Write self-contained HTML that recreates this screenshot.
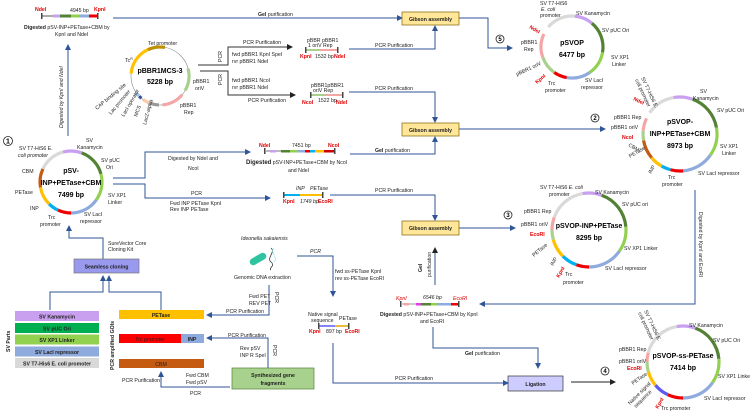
<!DOCTYPE html>
<html><head><meta charset="utf-8"><style>
html,body{margin:0;padding:0;background:#fff}
svg{display:block;font-family:"Liberation Sans",sans-serif}
.t{font-size:5.2px;fill:#222}
.b{font-weight:bold}
.r{fill:#e00000}
.ln{stroke:#2f5597;stroke-width:1;fill:none}
.lk{stroke:#222;stroke-width:1;fill:none}
.a{stroke-width:3.2;fill:none}
</style></head><body>
<svg width="750" height="413" viewBox="0 0 750 413" xmlns="http://www.w3.org/2000/svg">
<defs>
<marker id="ar" markerWidth="6" markerHeight="6" refX="5" refY="3" orient="auto" markerUnits="userSpaceOnUse"><path d="M0,0 L6,3 L0,6 z" fill="#2f5597"/></marker>
<marker id="ak" markerWidth="6" markerHeight="6" refX="5" refY="3" orient="auto" markerUnits="userSpaceOnUse"><path d="M0,0 L6,3 L0,6 z" fill="#222"/></marker>
</defs>

<!-- ===== Top fragment ===== -->
<line x1="42" y1="16" x2="97" y2="16" stroke="#aaa" stroke-width="2"/>
<rect x="53" y="14.5" width="7" height="3" fill="#c9a0f0"/><rect x="60" y="14.5" width="11" height="3" fill="#548235"/><rect x="71" y="14.5" width="8" height="3" fill="#92d050"/><rect x="79" y="14.5" width="10" height="3" fill="#8faadc"/><rect x="89" y="14.5" width="8" height="3" fill="#e00"/>
<rect x="41" y="13" width="1.5" height="6" fill="#444"/><rect x="97" y="13" width="1.5" height="6" fill="#444"/>
<text x="35" y="11" class="t r b">NdeI</text><text x="94" y="11" class="t r b">KpnI</text><text x="70" y="12" class="t">4945 bp</text>
<text x="24" y="29" class="t"><tspan class="b">Digested</tspan> pSV-INP+PETase+CBM by</text><text x="55" y="36" class="t">KpnI and NdeI</text>
<polyline class="ln" points="113,18 402,18" marker-end="url(#ar)"/>
<text x="258" y="16" class="t b">Gel <tspan font-weight="normal">purification</tspan></text>
<line class="ln" x1="68" y1="136" x2="68" y2="45" marker-end="url(#ar)"/>
<text transform="translate(63,128) rotate(-90)" class="t" font-style="italic">Digested by KpnI and NdeI</text>

<!-- ===== pBBR1MCS-3 ===== -->
<g transform="translate(160,76)">
<circle r="29" fill="none" stroke="#888" stroke-width="0.6"/>
<circle r="29" pathLength="360" class="a" stroke="#bf9000" stroke-dasharray="35 360" transform="rotate(-115)"/>
<circle r="29" pathLength="360" class="a" stroke="#ffc000" stroke-dasharray="60 360" transform="rotate(-175)"/>
<circle r="29" pathLength="360" class="a" stroke="#a9d18e" stroke-dasharray="45 360" transform="rotate(-15)"/>
<circle r="29" pathLength="360" class="a" stroke="#f4a6a6" stroke-dasharray="45 360" transform="rotate(40)"/>
<circle r="29" pathLength="360" class="a" stroke="#999" stroke-dasharray="18 360" transform="rotate(92)"/>
<circle r="29" pathLength="360" class="a" stroke="#f8cbad" stroke-dasharray="14 360" transform="rotate(112)"/>
<circle r="29" pathLength="360" class="a" stroke="#2f5597" stroke-dasharray="6 360" transform="rotate(130)"/>
<circle r="29" pathLength="360" class="a" stroke="#9dc3e6" stroke-dasharray="8 360" transform="rotate(137)"/>
<text x="0" y="-3" class="b" font-size="7" text-anchor="middle">pBBR1MCS-3</text>
<text x="0" y="8" class="b" font-size="7" text-anchor="middle">5228 bp</text>
</g>
<text x="148" y="45" class="t">Tet promoter</text><text x="125" y="62" class="t">Tc<tspan font-size="3.5" dy="-2">R</tspan></text>
<text x="193" y="83" class="t">pBBR1</text><text x="195" y="90" class="t">oriV</text>
<text x="180" y="107" class="t">pBBR1</text><text x="184" y="114" class="t">Rep</text>
<text transform="translate(97,110) rotate(-40)" class="t">CAP binding site</text>
<text transform="translate(111,115) rotate(-50)" class="t">Lac promoter</text>
<text transform="translate(124,117) rotate(-60)" class="t">LacI operator</text>
<text transform="translate(137,117) rotate(-70)" class="t">MCS</text>
<text transform="translate(146,125) rotate(-75)" class="t">LacZ-alpha</text>

<polyline points="198,65 228,65 228,47 292,47" stroke="#333" stroke-width="1" fill="none" marker-end="url(#ak)"/>
<polyline points="200,71 228,71 228,95 295,95" stroke="#333" stroke-width="1" fill="none" marker-end="url(#ak)"/>
<text transform="translate(222,62) rotate(-90)" class="t">PCR</text>
<text transform="translate(222,85) rotate(-90)" class="t">PCR</text>
<text x="243" y="44" class="t">PCR Purification</text>
<text x="232" y="56" class="t">fwd pBBR1 KpnI SpeI</text><text x="232" y="63" class="t">rvr pBBR1 NdeI</text>
<text x="232" y="82" class="t">fwd pBBR1 NcoI</text><text x="232" y="89" class="t">rvr pBBR1 NdeI</text>
<text x="248" y="102" class="t">PCR Purification</text>

<!-- frag 1 -->
<line x1="306" y1="50" x2="337" y2="50" stroke="#a9d18e" stroke-width="2"/><line x1="320" y1="50" x2="337" y2="50" stroke="#f4a6a6" stroke-width="2"/>
<rect x="305" y="47" width="1.5" height="6" fill="#444"/><rect x="337" y="47" width="1.5" height="6" fill="#444"/>
<text x="307" y="42" class="t" font-size="4.5">pBBR  pBBR1</text><text x="308" y="47" class="t" font-size="4.5">1 oriV    Rep</text>
<text x="300" y="58" class="t r b">KpnI</text><text x="315" y="58" class="t">1532 bp</text><text x="334" y="58" class="t r b">NdeI</text>
<!-- frag 2 -->
<line x1="311" y1="95" x2="342" y2="95" stroke="#a9d18e" stroke-width="2"/><line x1="326" y1="95" x2="342" y2="95" stroke="#f4a6a6" stroke-width="2"/>
<rect x="310" y="92" width="1.5" height="6" fill="#444"/><rect x="342" y="92" width="1.5" height="6" fill="#444"/>
<text x="311" y="87" class="t" font-size="4.5">pBBR1pBBR1</text><text x="313" y="92" class="t" font-size="4.5">oriV    Rep</text>
<text x="302" y="104" class="t r b">NcoI</text><text x="318" y="102" class="t">1522 bp</text><text x="336" y="104" class="t r b">NdeI</text>

<polyline class="ln" points="349,49 435,49 435,26" marker-end="url(#ar)"/>
<text x="375" y="47" class="t">PCR Purification</text>
<polyline class="ln" points="349,92 435,92 435,122" marker-end="url(#ar)"/>
<text x="375" y="90" class="t">PCR Purification</text>

<!-- Gibson boxes -->
<rect x="402" y="12" width="57" height="13" fill="#ffe699" stroke="#7f6000" stroke-width="0.7"/><text x="430.5" y="21" class="t b" text-anchor="middle">Gibson assembly</text>
<rect x="402" y="123" width="57" height="13" fill="#ffe699" stroke="#7f6000" stroke-width="0.7"/><text x="430.5" y="132" class="t b" text-anchor="middle">Gibson assembly</text>
<rect x="402" y="221" width="57" height="14" fill="#ffe699" stroke="#7f6000" stroke-width="0.7"/><text x="430.5" y="230" class="t b" text-anchor="middle">Gibson assembly</text>

<polyline class="ln" points="459,18 488,18 488,48 512,48" marker-end="url(#ar)"/>
<circle cx="500" cy="39" r="4" fill="#fff" stroke="#222" stroke-width="0.8"/><text x="500" y="41" font-size="6" class="b" text-anchor="middle">5</text>
<line class="ln" x1="459" y1="129" x2="605" y2="129" marker-end="url(#ar)"/>
<circle cx="595" cy="118" r="4" fill="#fff" stroke="#222" stroke-width="0.8"/><text x="595" y="120" font-size="6" class="b" text-anchor="middle">2</text>
<line class="ln" x1="459" y1="228" x2="515" y2="228" marker-end="url(#ar)"/>
<circle cx="508" cy="215" r="4" fill="#fff" stroke="#222" stroke-width="0.8"/><text x="508" y="217" font-size="6" class="b" text-anchor="middle">3</text>

<!-- ===== pSVOP ===== -->
<g transform="translate(572,47)">
<circle r="31" pathLength="360" class="a" stroke="#d9d9d9" stroke-dasharray="55 360" transform="rotate(-140)"/>
<circle r="31" pathLength="360" class="a" stroke="#c9a0f0" stroke-dasharray="35 360" transform="rotate(-85)"/>
<circle r="31" pathLength="360" class="a" stroke="#548235" stroke-dasharray="60 360" transform="rotate(-50)"/>
<circle r="31" pathLength="360" class="a" stroke="#92d050" stroke-dasharray="45 360" transform="rotate(10)"/>
<circle r="31" pathLength="360" class="a" stroke="#8faadc" stroke-dasharray="45 360" transform="rotate(55)"/>
<circle r="31" pathLength="360" class="a" stroke="#e00" stroke-dasharray="25 360" transform="rotate(100)"/>
<circle r="31" pathLength="360" class="a" stroke="#a9d18e" stroke-dasharray="35 360" transform="rotate(125)"/>
<circle r="31" pathLength="360" class="a" stroke="#f4a6a6" stroke-dasharray="45 360" transform="rotate(160)"/>
<text y="-2" class="b" font-size="7" text-anchor="middle">pSVOP</text><text y="10" class="b" font-size="7" text-anchor="middle">6477 bp</text>
</g>
<text x="540" y="5" class="t">SV T7-HiS6</text><text x="541" y="11" class="t" font-style="italic">E. coli</text><text x="540" y="17" class="t">promoter</text>
<text x="576" y="15" class="t">SV Kanamycin</text><text x="602" y="32" class="t">SV pUC Ori</text>
<text x="611" y="59" class="t">SV XP1</text><text x="612" y="66" class="t">Linker</text>
<text x="585" y="82" class="t">SV LacI</text><text x="581" y="89" class="t">repressor</text>
<text x="548" y="85" class="t">Trc</text><text x="545" y="92" class="t">promoter</text>
<text x="521" y="44" class="t">pBBR1</text><text x="524" y="51" class="t">Rep</text>
<text transform="translate(517,76) rotate(-25)" class="t">pBBR1 oriV</text>
<text transform="translate(529,28) rotate(30)" class="t r b">NdeI</text>
<text transform="translate(537,84) rotate(-40)" class="t r b">KpnI</text>

<!-- ===== pSVOP-INP+PETase+CBM ===== -->
<g transform="translate(680,134)">
<circle r="37" pathLength="360" class="a" stroke="#d9d9d9" stroke-dasharray="45 360" transform="rotate(-145)"/>
<circle r="37" pathLength="360" class="a" stroke="#c9a0f0" stroke-dasharray="30 360" transform="rotate(-100)"/>
<circle r="37" pathLength="360" class="a" stroke="#548235" stroke-dasharray="60 360" transform="rotate(-70)"/>
<circle r="37" pathLength="360" class="a" stroke="#92d050" stroke-dasharray="45 360" transform="rotate(-10)"/>
<circle r="37" pathLength="360" class="a" stroke="#8faadc" stroke-dasharray="50 360" transform="rotate(35)"/>
<circle r="37" pathLength="360" class="a" stroke="#e00" stroke-dasharray="20 360" transform="rotate(85)"/>
<circle r="37" pathLength="360" class="a" stroke="#00b0f0" stroke-dasharray="15 360" transform="rotate(105)"/>
<circle r="37" pathLength="360" class="a" stroke="#ffc000" stroke-dasharray="20 360" transform="rotate(120)"/>
<circle r="37" pathLength="360" class="a" stroke="#c55a11" stroke-dasharray="30 360" transform="rotate(140)"/>
<circle r="37" pathLength="360" class="a" stroke="#a9d18e" stroke-dasharray="15 360" transform="rotate(170)"/>
<circle r="37" pathLength="360" class="a" stroke="#f4a6a6" stroke-dasharray="20 360" transform="rotate(185)"/>
<text y="-10" class="b" font-size="7" text-anchor="middle">pSVOP-</text><text y="2" class="b" font-size="7" text-anchor="middle">INP+PETase+CBM</text><text y="14" class="b" font-size="7" text-anchor="middle">8973 bp</text>
</g>
<text transform="translate(641,78) rotate(65)" class="t">SV T7-HiS6 E.</text><text transform="translate(635,80) rotate(65)" class="t">coli promoter</text>
<text x="700" y="93" class="t">SV</text><text x="693" y="100" class="t">Kanamycin</text>
<text x="717" y="112" class="t">SV pUC Ori</text>
<text x="720" y="148" class="t">SV XP1</text><text x="722" y="155" class="t">Linker</text>
<text x="698" y="175" class="t">SV LacI repressor</text>
<text x="668" y="179" class="t">Trc</text><text x="662" y="186" class="t">promoter</text>
<text x="614" y="119" class="t">pBBR1 Rep</text><text x="611" y="129" class="t">pBBR1 oriV</text>
<text x="622" y="139" class="t r b" font-size="6">NcoI</text>
<text transform="translate(633,100) rotate(25)" class="t r b">NdeI</text>
<text transform="translate(628,146) rotate(30)" class="t">CBM</text>
<text transform="translate(630,158) rotate(-30)" class="t">PETase</text>
<text transform="translate(651,174) rotate(-60)" class="t">INP</text>

<!-- vertical digest line -->
<polyline class="ln" points="695,190 695,304 480,304" marker-end="url(#ar)"/>
<text transform="translate(699,212) rotate(90)" class="t">Digested by KpnI and EcoRI</text>

<!-- ===== pSV-INP+PETase+CBM ===== -->
<g transform="translate(71,182)">
<circle r="31" pathLength="360" class="a" stroke="#d9d9d9" stroke-dasharray="50 360" transform="rotate(-155)"/>
<circle r="31" pathLength="360" class="a" stroke="#c9a0f0" stroke-dasharray="35 360" transform="rotate(-105)"/>
<circle r="31" pathLength="360" class="a" stroke="#548235" stroke-dasharray="55 360" transform="rotate(-70)"/>
<circle r="31" pathLength="360" class="a" stroke="#92d050" stroke-dasharray="50 360" transform="rotate(-15)"/>
<circle r="31" pathLength="360" class="a" stroke="#8faadc" stroke-dasharray="55 360" transform="rotate(35)"/>
<circle r="31" pathLength="360" class="a" stroke="#e00" stroke-dasharray="25 360" transform="rotate(90)"/>
<circle r="31" pathLength="360" class="a" stroke="#00b0f0" stroke-dasharray="20 360" transform="rotate(115)"/>
<circle r="31" pathLength="360" class="a" stroke="#ffc000" stroke-dasharray="35 360" transform="rotate(135)"/>
<circle r="31" pathLength="360" class="a" stroke="#c55a11" stroke-dasharray="35 360" transform="rotate(170)"/>
<text y="-9" class="b" font-size="7" text-anchor="middle">pSV-</text><text y="3" class="b" font-size="7" text-anchor="middle">INP+PETase+CBM</text><text y="15" class="b" font-size="7" text-anchor="middle">7499 bp</text>
</g>
<circle cx="8" cy="141" r="4.5" fill="#fff" stroke="#222" stroke-width="0.8"/><text x="8" y="143.5" font-size="7" class="b" text-anchor="middle">1</text>
<text x="19" y="150" class="t">SV T7-HiS6 E.</text><text x="18" y="157" class="t" font-style="italic">coli promoter</text>
<text x="86" y="142" class="t">SV</text><text x="77" y="149" class="t">Kanamycin</text>
<text x="101" y="162" class="t">SV pUC</text><text x="106" y="169" class="t">Ori</text>
<text x="108" y="197" class="t">SV XP1</text><text x="108" y="204" class="t">Linker</text>
<text x="22" y="173" class="t">CBM</text><text x="15" y="194" class="t">PETase</text><text x="30" y="210" class="t">INP</text>
<text x="84" y="216" class="t">SV LacI</text><text x="80" y="223" class="t">repressor</text>
<text x="48" y="219" class="t">Trc</text><text x="40" y="226" class="t">promoter</text>

<polyline class="ln" points="113,178 145,178 145,152 250,152" marker-end="url(#ar)"/>
<polyline class="ln" points="113,184 145,184 145,198 270,198" marker-end="url(#ar)"/>
<text x="168" y="160" class="t">Digested by NdeI and</text><text x="188" y="170" class="t">NcoI</text>
<text x="191" y="195" class="t">PCR</text>
<text x="170" y="205" class="t">Fwd INP PETase KpnI</text><text x="170" y="211" class="t">Rev INP PETase</text>

<!-- frag 3 -->
<line x1="266" y1="151" x2="334" y2="151" stroke="#bbb" stroke-width="2"/>
<rect x="270" y="150" width="6" height="2.5" fill="#c9a0f0"/><rect x="281" y="150" width="9" height="2.5" fill="#548235"/><rect x="290" y="150" width="8" height="2.5" fill="#92d050"/><rect x="298" y="150" width="7" height="2.5" fill="#8faadc"/><rect x="305" y="150" width="5" height="2.5" fill="#e00"/><rect x="310" y="150" width="5" height="2.5" fill="#00b0f0"/><rect x="315" y="150" width="9" height="2.5" fill="#ffc000"/><rect x="324" y="150" width="10" height="2.5" fill="#c00"/>
<rect x="264" y="148" width="1.5" height="6" fill="#444"/><rect x="334" y="148" width="1.5" height="6" fill="#444"/>
<text x="259" y="147" class="t r b">NdeI</text><text x="292" y="147" class="t">7451 bp</text><text x="328" y="147" class="t r b">NcoI</text>
<text x="246" y="164" class="t"><tspan class="b" font-size="6">Digested</tspan> pSV-INP+PETase+CBM by NcoI</text><text x="288" y="172" class="t">and NdeI</text>
<polyline class="ln" points="350,154 435,154 435,137" marker-end="url(#ar)"/>
<text x="375" y="152" class="t b">Gel <tspan font-weight="normal">purification</tspan></text>

<!-- frag 4 -->
<line x1="284" y1="195" x2="322" y2="195" stroke="#00b0f0" stroke-width="2"/><line x1="300" y1="195" x2="322" y2="195" stroke="#ffc000" stroke-width="2"/>
<rect x="283" y="192" width="1.5" height="6" fill="#444"/><rect x="322" y="192" width="1.5" height="6" fill="#444"/>
<text x="296" y="190" class="t" font-style="italic">INP</text><text x="310" y="190" class="t" font-style="italic">PETase</text>
<text x="283" y="203" class="t r b">KpnI</text><text x="300" y="203" class="t" font-style="italic">1749 bp</text><text x="318" y="203" class="t r b">EcoRI</text>
<polyline class="ln" points="330,195 435,195 435,220" marker-end="url(#ar)"/>
<text x="375" y="192" class="t">PCR Purification</text>

<!-- ===== pSVOP-INP+PETase ===== -->
<g transform="translate(589,230)">
<circle r="37" pathLength="360" class="a" stroke="#d9d9d9" stroke-dasharray="60 360" transform="rotate(-160)"/>
<circle r="37" pathLength="360" class="a" stroke="#c9a0f0" stroke-dasharray="30 360" transform="rotate(-100)"/>
<circle r="37" pathLength="360" class="a" stroke="#548235" stroke-dasharray="65 360" transform="rotate(-70)"/>
<circle r="37" pathLength="360" class="a" stroke="#92d050" stroke-dasharray="40 360" transform="rotate(-5)"/>
<circle r="37" pathLength="360" class="a" stroke="#8faadc" stroke-dasharray="55 360" transform="rotate(35)"/>
<circle r="37" pathLength="360" class="a" stroke="#e00" stroke-dasharray="20 360" transform="rotate(90)"/>
<circle r="37" pathLength="360" class="a" stroke="#00b0f0" stroke-dasharray="25 360" transform="rotate(110)"/>
<circle r="37" pathLength="360" class="a" stroke="#ffc000" stroke-dasharray="30 360" transform="rotate(135)"/>
<circle r="37" pathLength="360" class="a" stroke="#a9d18e" stroke-dasharray="15 360" transform="rotate(165)"/>
<circle r="37" pathLength="360" class="a" stroke="#f4a6a6" stroke-dasharray="20 360" transform="rotate(180)"/>
<text y="-2" class="b" font-size="7" text-anchor="middle">pSVOP-INP+PETase</text><text y="10" class="b" font-size="7" text-anchor="middle">8295 bp</text>
</g>
<text x="540" y="189" class="t">SV T7-HiS6 <tspan font-style="italic">E. coli</tspan></text><text x="549" y="196" class="t">promoter</text>
<text x="595" y="194" class="t">SV Kanamycin</text><text x="622" y="206" class="t">SV pUC ori</text>
<text x="624" y="250" class="t">SV XP1 Linker</text><text x="605" y="270" class="t">SV LacI repressor</text>
<text x="524" y="213" class="t">pBBR1 Rep</text><text x="521" y="226" class="t">pBBR1 oriV</text>
<text x="530" y="236" class="t r b" font-size="6">EcoRI</text>
<text transform="translate(534,257) rotate(-40)" class="t">PETase</text>
<text transform="translate(553,266) rotate(-60)" class="t">INP</text>
<text transform="translate(559,278) rotate(-60)" class="t r b">KpnI</text>
<text x="565" y="276" class="t">Trc</text><text x="563" y="284" class="t">promoter</text>

<!-- frag 5 -->
<line x1="402" y1="304" x2="458" y2="304" stroke="#ccc" stroke-width="2"/>
<rect x="404" y="303" width="5" height="2.5" fill="#f4a6a6"/><rect x="416" y="303" width="5" height="2.5" fill="#e040e0"/><rect x="421" y="303" width="10" height="2.5" fill="#548235"/><rect x="431" y="303" width="6" height="2.5" fill="#92d050"/><rect x="437" y="303" width="14" height="2.5" fill="#8faadc"/><rect x="451" y="303" width="7" height="2.5" fill="#e00"/>
<rect x="400" y="301" width="1.5" height="6" fill="#444"/><rect x="458" y="301" width="1.5" height="6" fill="#444"/>
<text x="396" y="300" class="t r" font-style="italic">KpnI</text><text x="423" y="299" class="t" font-style="italic">6546 bp</text><text x="453" y="300" class="t r" font-style="italic">EcoRI</text>
<text x="380" y="316" class="t"><tspan class="b">Digested</tspan> pSV-INP+PETase+CBM by KpnI</text><text x="420" y="323" class="t">and EcoRI</text>
<line class="ln" x1="435" y1="285" x2="435" y2="248" stroke="#222" marker-end="url(#ak)"/>
<text transform="translate(422,272) rotate(-90)" class="t b">Gel</text><text transform="translate(431,277) rotate(-90)" class="t">purification</text>
<polyline class="ln" points="433,327 433,348 538,348 538,368" marker-end="url(#ar)"/>
<text x="465" y="355" class="t b">Gel <tspan font-weight="normal">purification</tspan></text>

<!-- Ligation -->
<rect x="508" y="376" width="55" height="15" fill="#ccccff" stroke="#333" stroke-width="0.7"/><text x="535.5" y="386" class="t b" font-size="6" text-anchor="middle">Ligation</text>
<line x1="571" y1="382" x2="615" y2="382" stroke="#222" stroke-width="1" marker-end="url(#ak)"/>
<circle cx="605" cy="371" r="4" fill="#fff" stroke="#222" stroke-width="0.8"/><text x="605" y="373" font-size="6" class="b" text-anchor="middle">4</text>

<!-- ===== pSVOP-ss-PETase ===== -->
<g transform="translate(683,362)">
<circle r="36" pathLength="360" class="a" stroke="#d9d9d9" stroke-dasharray="65 360" transform="rotate(-165)"/>
<circle r="36" pathLength="360" class="a" stroke="#c9a0f0" stroke-dasharray="30 360" transform="rotate(-100)"/>
<circle r="36" pathLength="360" class="a" stroke="#548235" stroke-dasharray="65 360" transform="rotate(-70)"/>
<circle r="36" pathLength="360" class="a" stroke="#92d050" stroke-dasharray="40 360" transform="rotate(-5)"/>
<circle r="36" pathLength="360" class="a" stroke="#8faadc" stroke-dasharray="55 360" transform="rotate(35)"/>
<circle r="36" pathLength="360" class="a" stroke="#e00" stroke-dasharray="25 360" transform="rotate(90)"/>
<circle r="36" pathLength="360" class="a" stroke="#5b5bf0" stroke-dasharray="25 360" transform="rotate(115)"/>
<circle r="36" pathLength="360" class="a" stroke="#ffc000" stroke-dasharray="25 360" transform="rotate(140)"/>
<circle r="36" pathLength="360" class="a" stroke="#a9d18e" stroke-dasharray="15 360" transform="rotate(165)"/>
<circle r="36" pathLength="360" class="a" stroke="#f4a6a6" stroke-dasharray="15 360" transform="rotate(180)"/>
<text y="-4" class="b" font-size="7" text-anchor="middle">pSVOP-ss-PETase</text><text y="8" class="b" font-size="7" text-anchor="middle">7414 bp</text>
</g>
<text transform="translate(644,311) rotate(65)" class="t">SV T7-HiS6 E.</text><text transform="translate(638,313) rotate(65)" class="t">coli promoter</text>
<text x="689" y="327" class="t">SV Kanamycin</text><text x="713" y="342" class="t">SV pUC Ori</text>
<text x="718" y="378" class="t">SV XP1 Linker</text><text x="704" y="400" class="t">SV LacI repressor</text>
<text x="619" y="351" class="t">pBBR1 Rep</text><text x="619" y="363" class="t">pBBR1 oriV</text>
<text x="627" y="370" class="t r b" font-size="6">EcoRI</text>
<text transform="translate(633,385) rotate(-35)" class="t">PETase</text>
<text transform="translate(630,405) rotate(-45)" class="t">Native signal</text><text transform="translate(636,408) rotate(-45)" class="t">sequence</text>
<text transform="translate(658,409) rotate(-60)" class="t r b">KpnI</text>
<text x="661" y="410" class="t">Trc promoter</text>

<!-- ===== Lower left ===== -->
<polyline class="ln" points="103,259 103,238 69,238 69,226" marker-end="url(#ar)"/>
<text x="108" y="245" class="t">SureVector Core</text><text x="108" y="251" class="t">Cloning Kit</text>
<rect x="74" y="259" width="65" height="14" fill="#9999ee" stroke="#777" stroke-width="0.7"/><text x="106.5" y="268.5" class="t b" font-size="5.5" text-anchor="middle">Seamless cloning</text>
<polyline class="ln" points="50,310 50,292 103,292 103,276" marker-end="url(#ar)"/>
<polyline class="ln" points="161,310 161,292 109,292 109,276" marker-end="url(#ar)"/>

<rect x="15" y="311" width="84" height="10" fill="#c9a0f0"/><text x="57" y="318.5" class="t b" text-anchor="middle">SV Kanamycin</text>
<rect x="15" y="323" width="84" height="10" fill="#00b050"/><text x="57" y="330.5" class="t b" text-anchor="middle">SV pUC Ori</text>
<rect x="15" y="334.5" width="84" height="10" fill="#92d050"/><text x="57" y="342" class="t b" text-anchor="middle">SV XP1 Linker</text>
<rect x="15" y="346.5" width="84" height="10" fill="#8faadc"/><text x="57" y="354" class="t b" text-anchor="middle">SV LacI repressor</text>
<rect x="15" y="358" width="84" height="10" fill="#d9d9d9"/><text x="57" y="365.5" class="t b" text-anchor="middle">SV T7-His6 E. coli promoter</text>
<text transform="translate(10,352) rotate(-90)" class="t b" font-size="6">SV Parts</text>
<text transform="translate(114,370) rotate(-90)" class="t b" font-size="6">PCR amplified GOIs</text>

<rect x="119" y="310" width="85" height="9" fill="#ffc000"/><text x="161" y="317" class="t b" text-anchor="middle">PETase</text>
<rect x="119" y="334" width="62" height="9" fill="#f00"/><rect x="181" y="334" width="23" height="9" fill="#8faadc"/>
<text x="150" y="341" class="t" text-anchor="middle">Trc promoter</text><text x="192" y="341" class="t b" text-anchor="middle">INP</text>
<rect x="119" y="359" width="85" height="9" fill="#c55a11"/><text x="161" y="366" class="t" text-anchor="middle">CBM</text>

<rect x="232" y="368" width="82" height="21" fill="#a9d18e" stroke="#548235" stroke-width="0.7"/>
<text x="273" y="377" class="t b" font-size="6" text-anchor="middle">Synthesized gene</text><text x="273" y="385" class="t b" font-size="6" text-anchor="middle">fragments</text>

<polyline class="ln" points="269,285 269,315 207,315" marker-end="url(#ar)"/>
<text x="226" y="313" class="t">PCR Purification</text>
<text x="249" y="298" class="t">Fwd PET</text><text x="249" y="305" class="t">REV PET</text>
<text transform="translate(275,292) rotate(90)" class="t">PCR</text>
<polyline class="ln" points="268,368 268,338 207,338" marker-end="url(#ar)"/>
<text x="228" y="337" class="t">PCR Purification</text>
<text x="240" y="350" class="t">Rev pSV</text><text x="240" y="357" class="t">INP R SpeI</text>
<text transform="translate(273,345) rotate(90)" class="t">PCR</text>
<polyline class="ln" points="230,387 161,387 161,372" marker-end="url(#ar)"/>
<text x="122" y="382" class="t">PCR Purification</text>
<text x="186" y="377" class="t">Fwd CBM</text><text x="186" y="384" class="t">Fwd pSV</text>
<text x="190" y="395" class="t">PCR</text>

<!-- Ideonella -->
<text x="241" y="240" class="t" font-style="italic">Ideonella sakaiensis</text>
<g transform="translate(258,259) rotate(-30)"><rect x="-9" y="-3.5" width="18" height="7" rx="3.5" fill="#2ec4a0"/></g>
<path d="M271,248 C276,252 266,258 271,262 C276,266 268,268 271,270" stroke="#333" stroke-width="0.8" fill="none"/>
<path d="M274,248 C269,252 279,258 274,262" stroke="#9ee" stroke-width="0.8" fill="none"/>
<text x="234" y="279" class="t">Genomic DNA extraction</text>
<polyline class="ln" points="297,256 333,256 333,296" marker-end="url(#ar)"/>
<text x="310" y="253" class="t" font-style="italic">PCR</text>
<text x="335" y="273" class="t">fwd ss-PETase KpnI</text><text x="335" y="280" class="t">rev ss-PETase EcoRI</text>

<text x="308" y="316" class="t">Native signal</text><text x="311" y="322" class="t">sequence</text><text x="339" y="320" class="t">PETase</text>
<line x1="319" y1="326" x2="348" y2="326" stroke="#5b5bf0" stroke-width="1.5"/><line x1="335" y1="326" x2="348" y2="326" stroke="#ffc000" stroke-width="1.5"/>
<rect x="318" y="323" width="1.5" height="6" fill="#444"/><rect x="348" y="323" width="1.5" height="6" fill="#444"/>
<text x="309" y="333" class="t r b">KpnI</text><text x="326" y="333" class="t">897 bp</text><text x="345" y="333" class="t r b">EcoRI</text>
<polyline class="ln" points="333,343 333,383 508,383" marker-end="url(#ar)"/>
<text x="395" y="380" class="t">PCR Purification</text>
</svg>
</body></html>
